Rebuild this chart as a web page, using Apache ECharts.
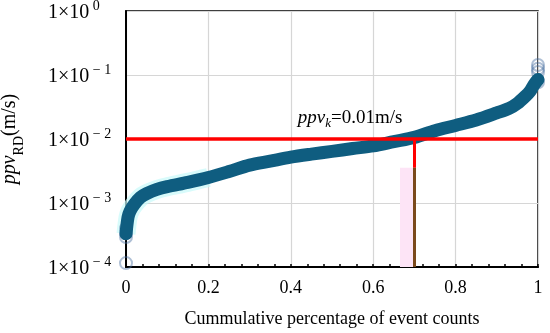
<!DOCTYPE html>
<html>
<head>
<meta charset="utf-8">
<script src="https://cdn.jsdelivr.net/npm/echarts@6/dist/echarts.min.js"></script>
<style>html,body{margin:0;padding:0;background:#fff}#c{width:550px;height:333px}</style>
</head>
<body>
<div id="c"></div>
<script>
// Cumulative fraction of event counts (x) and ppv_RD in m/s (y)
const cumFraction = [0, 0.005, 0.01, 0.02, 0.035, 0.05, 0.075, 0.1, 0.15, 0.2, 0.25, 0.3, 0.35, 0.4, 0.45, 0.5, 0.55, 0.6, 0.65, 0.7, 0.75, 0.8, 0.85, 0.9, 0.93, 0.95, 0.97, 0.98, 0.99, 1.0];
const ppvValues   = [0.00033, 0.0006, 0.00075, 0.00095, 0.00122, 0.0014, 0.00163, 0.0018, 0.0021, 0.0025, 0.0031, 0.0039, 0.0045, 0.0052, 0.0058, 0.0064, 0.0071, 0.0078, 0.0091, 0.0106, 0.0135, 0.0163, 0.0198, 0.0255, 0.030, 0.036, 0.047, 0.055, 0.07, 0.085];
// isolated circles at both ends
const endX = [0, 0, 0, 0, 1, 1, 1, 1];
const endY = [0.000115, 0.000295, 0.00034, 0.0004, 0.077, 0.111, 0.125, 0.143];
// threshold annotation
const ppvK = 0.01;
const kFraction = 0.7;
const pinkFrom = 0.665;
const pinkTop = 0.00355;
const yMin = 0.0001, yMax = 1;
const xTicks = [0, 0.2, 0.4, 0.6, 0.8, 1];
const xTitle = 'Cummulative percentage of event counts';

const serif = "'Liberation Serif','Times New Roman',serif";
const band = cumFraction.map((x, i) => [x, ppvValues[i]]);
const glow = band.filter(p => p[0] <= 0.2);
const ends = endX.map((x, i) => [x, endY[i]]);

const chart = echarts.init(document.getElementById('c'), null, {renderer: 'canvas'});
chart.setOption({
  animation: false,
  backgroundColor: '#fff',
  grid: {left: 126, right: 12, top: 11, bottom: 66, outerBoundsMode: 'none', containLabel: false,
    show: true, borderColor: '#000', borderWidth: 1.5, backgroundColor: 'transparent'},
  xAxis: {
    type: 'value', min: 0, max: 1, interval: 0.2,
    axisLine: {show: true, onZero: false, lineStyle: {color: '#000', width: 2}},
    axisTick: {show: true, inside: true, length: 3, lineStyle: {color: '#000', width: 1.5}},
    minorTick: {show: true, splitNumber: 5, length: 3, lineStyle: {color: '#000', width: 1.5}},
    splitLine: {show: true, lineStyle: {color: '#d6d6d6', width: 1.2}},
    axisLabel: {color: '#000', fontFamily: serif, fontSize: 18, margin: 12,
      formatter: v => xTicks.indexOf(v) === -1 ? '' : (v === 0 ? '0' : v === 1 ? '1' : v.toFixed(1))},
    name: xTitle, nameLocation: 'middle', nameGap: 43,
    nameTextStyle: {color: '#000', fontFamily: serif, fontSize: 18}
  },
  yAxis: {
    type: 'log', logBase: 10, min: yMin, max: yMax,
    axisLine: {show: true, onZero: false, lineStyle: {color: '#000', width: 2}},
    axisTick: {show: false},
    splitLine: {show: true, lineStyle: {color: '#d6d6d6', width: 1.2}},
    axisLabel: {
      align: 'left', margin: 78,
      formatter: v => {
        const e = Math.round(Math.log10(v));
        return '{b|1×10}{s|' + (e === 0 ? ' 0' : ' − ' + (-e)) + '}';
      },
      rich: {
        b: {fontFamily: serif, fontSize: 20, color: '#000', lineHeight: 24, verticalAlign: 'bottom'},
        s: {fontFamily: serif, fontSize: 14, color: '#000', lineHeight: 16, verticalAlign: 'top'}
      }
    },
    name: '{i|ppv}{sub|RD}{r|(m/s)}', nameLocation: 'middle', nameGap: 100, nameRotate: 90,
    nameTextStyle: {
      rich: {
        i: {fontFamily: serif, fontStyle: 'italic', fontSize: 20, color: '#000', lineHeight: 26, verticalAlign: 'top'},
        sub: {fontFamily: serif, fontSize: 14, color: '#000', lineHeight: 16, verticalAlign: 'bottom'},
        r: {fontFamily: serif, fontSize: 20, color: '#000', lineHeight: 26, verticalAlign: 'top'}
      }
    }
  },
  series: [
    {
      type: 'line', z: 1, silent: true, symbol: 'none', data: [],
      markArea: {silent: true, itemStyle: {color: '#fde4f6'},
        data: [[{coord: [pinkFrom, yMin]}, {coord: [kFraction, pinkTop]}]]},
      markLine: {silent: true, symbol: 'none', label: {show: false},
        data: [
          [{coord: [0, ppvK], lineStyle: {color: '#ff0000', width: 3.5, type: 'solid'}}, {coord: [1, ppvK]}],
          [{coord: [kFraction, ppvK], lineStyle: {color: '#ff0000', width: 3, type: 'solid'}}, {coord: [kFraction, pinkTop]}],
          [{coord: [kFraction, pinkTop], lineStyle: {color: '#7b4a1c', width: 3, type: 'solid'}}, {coord: [kFraction, yMin]}]
        ]}
    },
    {
      type: 'line', z: 2, silent: true, symbol: 'none', data: glow, smooth: 0.3,
      lineStyle: {color: 'rgba(200,250,250,0.7)', width: 19, cap: 'butt', join: 'round'}
    },
    {
      type: 'scatter', z: 3, silent: true, symbol: 'circle', symbolSize: 12, data: ends,
      itemStyle: {color: 'rgba(255,255,255,0)', borderColor: 'rgba(70,110,160,0.55)', borderWidth: 2}
    },
    {
      type: 'line', z: 4, silent: true, symbol: 'none', smooth: 0.3, data: band,
      lineStyle: {color: '#0f5d80', width: 13, cap: 'round', join: 'round'}
    },
    {
      type: 'scatter', z: 5, silent: true, symbolSize: 0, data: [],
      markPoint: {silent: true, symbol: 'circle', symbolSize: 0,
        data: [{coord: [0.544, 0.0205], value: 0}],
        label: {show: true, position: 'inside',
          formatter: '{i|ppv}{k|k}{r|=0.01m/s}',
          rich: {
            i: {fontFamily: serif, fontStyle: 'italic', fontSize: 19, color: '#000', lineHeight: 22, verticalAlign: 'top'},
            k: {fontFamily: serif, fontStyle: 'italic', fontSize: 13, color: '#000', lineHeight: 14, verticalAlign: 'bottom'},
            r: {fontFamily: serif, fontSize: 19, color: '#000', lineHeight: 22, verticalAlign: 'top'}
          }}}
    }
  ]
});
</script>
</body>
</html>
